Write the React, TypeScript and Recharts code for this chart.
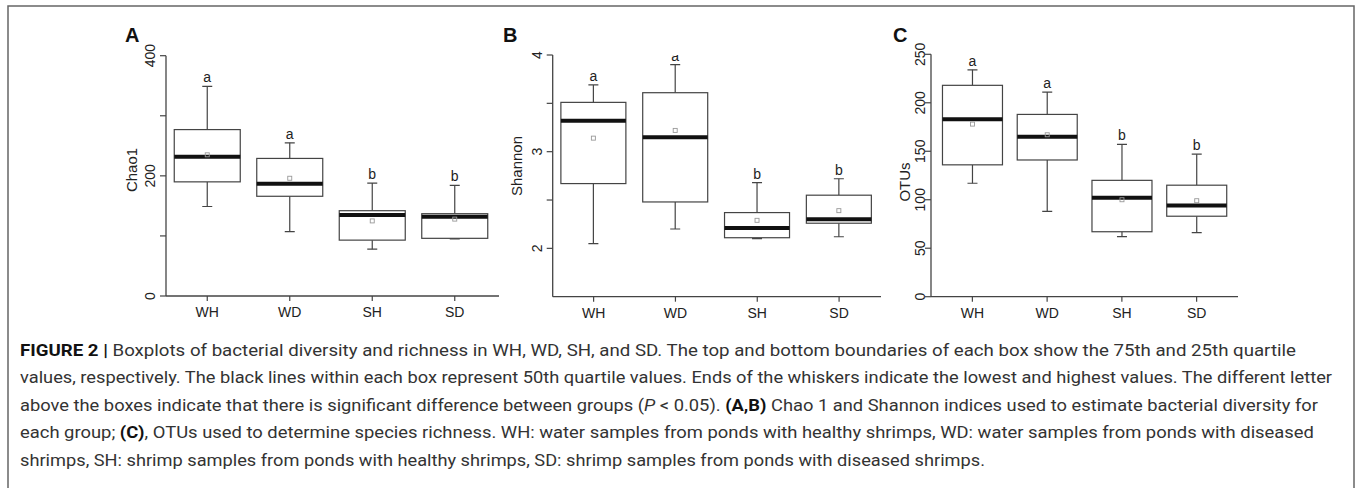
import React from 'react';
import { ComposedChart, Bar, XAxis, YAxis } from 'recharts';

const categories = ['WH', 'WD', 'SH', 'SD'];
const letters = ['a', 'a', 'b', 'b'];

// Panel A: Chao1
const chaoMin = [149, 107, 78, 95];
const chaoQ1 = [190, 166, 93, 96];
const chaoMed = [232, 187, 135, 132];
const chaoQ3 = [277, 229, 142, 137];
const chaoMax = [349, 255, 188, 184];
const chaoMean = [235, 196, 125, 128];
const chaoTicks = [0, 100, 200, 300, 400];
const chaoTickLabels = [0, 200, 400];

// Panel B: Shannon
const shanMin = [2.05, 2.2, 2.1, 2.12];
const shanQ1 = [2.67, 2.48, 2.11, 2.26];
const shanMed = [3.32, 3.15, 2.21, 2.3];
const shanQ3 = [3.51, 3.61, 2.37, 2.55];
const shanMax = [3.69, 3.9, 2.68, 2.72];
const shanMean = [3.14, 3.22, 2.29, 2.39];
const shanTicks = [2, 2.5, 3, 3.5, 4];
const shanTickLabels = [2, 3, 4];

// Panel C: OTUs
const otuMin = [117, 88, 62, 66];
const otuQ1 = [136, 141, 67, 83];
const otuMed = [183, 165, 102, 94];
const otuQ3 = [218, 188, 120, 115];
const otuMax = [234, 211, 157, 147];
const otuMean = [178, 167, 100, 99];
const otuTicks = [0, 50, 100, 150, 200, 250];
const otuTickLabels = [0, 50, 100, 150, 200, 250];

const FONT = '"Liberation Sans", Arial, sans-serif';
const AXIS = '#444';

function buildRows(mn: number[], q1: number[], md: number[], q3: number[], mx: number[], mean: number[]) {
  return categories.map((c, i) => ({
    name: c,
    range: [mn[i], mx[i]],
    min: mn[i],
    q1: q1[i],
    med: md[i],
    q3: q3[i],
    max: mx[i],
    mean: mean[i],
    letter: letters[i],
  }));
}

const chaoRows = buildRows(chaoMin, chaoQ1, chaoMed, chaoQ3, chaoMax, chaoMean);
const shanRows = buildRows(shanMin, shanQ1, shanMed, shanQ3, shanMax, shanMean);
const otuRows = buildRows(otuMin, otuQ1, otuMed, otuQ3, otuMax, otuMean);

const BoxShape = (props: any) => {
  const { x, y, width, height, payload } = props;
  if (!payload) return null;
  const top = Math.min(y, y + height);
  const bottom = Math.max(y, y + height);
  const lo = payload.min;
  const hi = payload.max;
  const py = (v: number) => top + ((hi - v) / (hi - lo)) * (bottom - top);
  const cx = x + width / 2;
  const cap = 5;
  const yQ1 = py(payload.q1);
  const yQ3 = py(payload.q3);
  const yMed = py(payload.med);
  const yMean = py(payload.mean);
  return (
    <g>
      <line x1={cx} x2={cx} y1={top} y2={yQ3} stroke={AXIS} strokeWidth={1.2} />
      <line x1={cx} x2={cx} y1={yQ1} y2={bottom} stroke={AXIS} strokeWidth={1.2} />
      <line x1={cx - cap} x2={cx + cap} y1={top} y2={top} stroke={AXIS} strokeWidth={1.2} />
      <line x1={cx - cap} x2={cx + cap} y1={bottom} y2={bottom} stroke={AXIS} strokeWidth={1.2} />
      <rect x={x} y={yQ3} width={width} height={yQ1 - yQ3} fill="#fff" stroke={AXIS} strokeWidth={1.2} />
      <line x1={x} x2={x + width} y1={yMed} y2={yMed} stroke="#111" strokeWidth={4} />
      <rect x={cx - 2} y={yMean - 2} width={4} height={4} fill="none" stroke="#999" strokeWidth={0.9} />
      <text x={cx} y={top - 4} textAnchor="middle" fontSize={14} fontFamily={FONT} fill="#222">
        {payload.letter}
      </text>
    </g>
  );
};

const makeYTick = (labels: number[], shift: number) => (props: any) => {
  const { x, y, payload } = props;
  if (!labels.includes(payload.value)) return <g />;
  return (
    <text
      transform={`translate(${x - shift},${y}) rotate(-90)`}
      textAnchor="middle"
      fontSize={14}
      fontFamily={FONT}
      fill="#222"
    >
      {payload.value}
    </text>
  );
};

const XTick = (props: any) => {
  const { x, y, payload } = props;
  return (
    <text x={x} y={y} dy="0.71em" textAnchor="middle" fontSize={14} fontFamily={FONT} fill="#222">
      {payload.value}
    </text>
  );
};

type PanelProps = {
  rows: any[];
  left: number;
  top: number;
  width: number;
  height: number;
  margin: { top: number; right: number; bottom: number; left: number };
  domain: [number, number];
  ticks: number[];
  labels: number[];
  padding: { left: number; right: number };
  tickShift: number;
};

const Panel = ({ rows, left, top, width, height, margin, domain, ticks, labels, padding, tickShift }: PanelProps) => (
  <div style={{ position: 'absolute', left, top, width, height }}>
    <ComposedChart width={width} height={height} data={rows} margin={margin} barCategoryGap="10%">
      <XAxis
        dataKey="name"
        type="category"
        height={30}
        padding={padding}
        axisLine={{ stroke: AXIS, strokeWidth: 1.3 }}
        tickLine={{ stroke: AXIS, strokeWidth: 1.2 }}
        tickSize={5}
        tickMargin={6}
        tick={<XTick />}
        interval={0}
      />
      <YAxis
        type="number"
        domain={domain}
        ticks={ticks}
        width={30}
        allowDataOverflow
        axisLine={{ stroke: AXIS, strokeWidth: 1.3 }}
        tickLine={{ stroke: AXIS, strokeWidth: 1.2 }}
        tickSize={6}
        tickMargin={0}
        tick={makeYTick(labels, tickShift)}
        interval={0}
      />
      <Bar dataKey="range" shape={<BoxShape />} isAnimationActive={false} />
    </ComposedChart>
  </div>
);

const captionLines: { parts: { t: string; b?: boolean; i?: boolean }[]; end: number }[] = [
  {
    parts: [
      { t: 'FIGURE 2 |', b: true },
      { t: ' Boxplots of bacterial diversity and richness in WH, WD, SH, and SD. The top and bottom boundaries of each box show the 75th and 25th quartile' },
    ],
    end: 1296,
  },
  {
    parts: [
      { t: 'values, respectively. The black lines within each box represent 50th quartile values. Ends of the whiskers indicate the lowest and highest values. The different letter' },
    ],
    end: 1332,
  },
  {
    parts: [
      { t: 'above the boxes indicate that there is significant difference between groups (' },
      { t: 'P', i: true },
      { t: ' < 0.05). ' },
      { t: '(A,B)', b: true },
      { t: ' Chao 1 and Shannon indices used to estimate bacterial diversity for' },
    ],
    end: 1318,
  },
  {
    parts: [
      { t: 'each group; ' },
      { t: '(C)', b: true },
      { t: ', OTUs used to determine species richness. WH: water samples from ponds with healthy shrimps, WD: water samples from ponds with diseased' },
    ],
    end: 1314,
  },
  {
    parts: [{ t: 'shrimps, SH: shrimp samples from ponds with healthy shrimps, SD: shrimp samples from ponds with diseased shrimps.' }],
    end: 985,
  },
];

const captionY = [356, 383, 411, 438, 466];
const CAPTION_X = 20;

export default function App() {
  return (
    <div style={{ position: 'absolute', left: 0, top: 0, width: 1360, height: 488, background: '#fff', overflow: 'hidden' }}>
      <Panel
        rows={chaoRows}
        left={100}
        top={20}
        width={420}
        height={310}
        margin={{ top: 35.7, right: 21, bottom: 4, left: 36 }}
        domain={[0, 400]}
        ticks={chaoTicks}
        labels={chaoTickLabels}
        padding={{ left: 0, right: 3 }}
        tickShift={5}
      />
      <Panel
        rows={shanRows}
        left={480}
        top={20}
        width={420}
        height={310}
        margin={{ top: 35, right: 19, bottom: 3.3, left: 42.7 }}
        domain={[1.5, 4]}
        ticks={shanTicks}
        labels={shanTickLabels}
        padding={{ left: 0, right: 1 }}
        tickShift={5}
      />
      <Panel
        rows={otuRows}
        left={860}
        top={20}
        width={400}
        height={310}
        margin={{ top: 34.3, right: 22, bottom: 3.3, left: 41 }}
        domain={[0, 250]}
        ticks={otuTicks}
        labels={otuTickLabels}
        padding={{ left: 4, right: 4 }}
        tickShift={0}
      />
      <svg width={1360} height={488} style={{ position: 'absolute', left: 0, top: 0, pointerEvents: 'none' }}>
        <path d="M8,488 L8,6 L1354,6 L1354,488" fill="none" stroke="#666" strokeWidth={1.5} />
        <g fontFamily={FONT} fontWeight="bold" fontSize={20} fill="#111">
          <text x={125} y={42}>A</text>
          <text x={503} y={42}>B</text>
          <text x={893} y={42}>C</text>
        </g>
        <g fontFamily={FONT} fontSize={15} fill="#222" textAnchor="middle">
          <text transform="translate(136.5,170) rotate(-90)">Chao1</text>
          <text transform="translate(521.5,166) rotate(-90)">Shannon</text>
          <text transform="translate(910,182) rotate(-90)">OTUs</text>
        </g>
        <g fontFamily='"Liberation Sans Narrow", Roboto, "Liberation Sans", sans-serif' fontSize={17} fill="#333">
          {captionLines.map((line, li) => (
            <text
              key={li}
              x={CAPTION_X}
              y={captionY[li]}
              textLength={line.end - CAPTION_X}
              lengthAdjust="spacingAndGlyphs"
            >
              {line.parts.map((p, pi) => (
                <tspan key={pi} fontWeight={p.b ? 'bold' : 'normal'} fontStyle={p.i ? 'italic' : 'normal'} fill={p.b ? '#111' : '#333'}>
                  {p.t}
                </tspan>
              ))}
            </text>
          ))}
        </g>
      </svg>
    </div>
  );
}
